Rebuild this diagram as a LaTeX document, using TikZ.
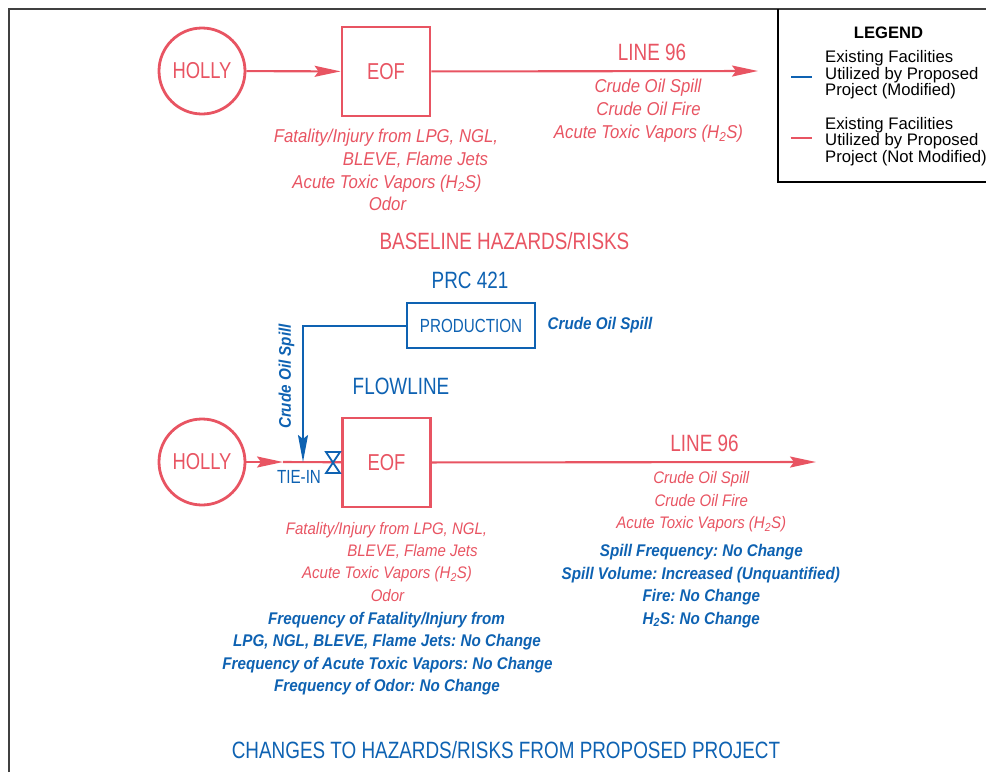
\documentclass[tikz,border=0pt]{standalone}
\usepackage{fontspec}
\setmainfont{Liberation Sans}[FakeStretch=0.8]
\newfontfamily\hazfont{Liberation Sans}[FakeStretch=0.9]
\newfontfamily\legfont{Liberation Sans}
\usetikzlibrary{arrows.meta,positioning}

\definecolor{hazred}{RGB}{232,84,98}
\definecolor{modblue}{RGB}{14,98,178}

\tikzset{
  redline/.style={hazred, line width=2.1pt},
  blueline/.style={modblue, line width=2pt},
  flowtip/.style={-{Stealth[length=26pt,width=11pt,inset=4pt]}},
  site/.style={circle, draw=hazred, line width=2.8pt, minimum size=86pt, inner sep=0pt,
    text=hazred, font=\fontsize{23}{23}\selectfont},
  facility/.style={draw=hazred, line width=2.8pt, minimum width=88pt, minimum height=89pt,
    inner sep=0pt, text=hazred, font=\fontsize{23}{23}\selectfont},
  title/.style={anchor=base, inner sep=0pt, font=\fontsize{23.6}{23.6}\selectfont},
  hazard/.style={anchor=base, inner sep=0pt, text=hazred, font=\hazfont\itshape\fontsize{18.6}{22}\selectfont},
  hazsmall/.style={anchor=base, inner sep=0pt, text=hazred, font=\hazfont\itshape\fontsize{16.7}{22}\selectfont},
  change/.style={anchor=base, inner sep=0pt, text=modblue, font=\hazfont\bfseries\itshape\fontsize{16.9}{22}\selectfont},
  legtext/.style={anchor=base west, inner sep=0pt, font=\legfont\fontsize{16.7}{16.5}\selectfont},
  frame/.style={draw=black!75, line width=2pt}
}
\frenchspacing

\begin{document}
\begin{tikzpicture}[x=1pt,y=-1pt]
    \useasboundingbox (0,0) rectangle (986,772);
    \draw [frame] (9,772) -- (9,9) -- (986,9);
    \draw [black, line width=1.5pt] (778,9) -- (778,182) -- (986,182);

    % legend
    \node[anchor=base, inner sep=0pt, font=\legfont\bfseries\fontsize{16.6}{16.6}\selectfont] (legend) at (888.5,38) {LEGEND};
    \foreach \txt [count=\i] in {Existing Facilities, Utilized by Proposed, Project (Modified)}
        \node[legtext] (legmod\i) at (825,46.2+16.5*\i) {\txt};
    \foreach \txt [count=\i] in {Existing Facilities, Utilized by Proposed, Project (Not Modified)}
        \node[legtext] (legnot\i) at (825,112.8+16.5*\i) {\txt};
    \draw [modblue, line width=2.2pt] (791,77) -- (812,77);
    \draw [hazred, line width=2.2pt] (791,138) -- (812,138);

    % baseline
    \node[site] (holly1) at (202,71) {HOLLY};
    \node[facility] (eof1) at (386,71.5) {EOF};
    \coordinate (end1) at (758,71);
    \draw [redline, flowtip] (holly1) -- (eof1);
    \draw [redline, flowtip] (eof1) -- (end1);
    \node[title, text=hazred] (line1) at (652,60) {LINE 96};
    \node[hazard] (spill1) at (648,92) {Crude Oil Spill};
    \node[hazard] (fire1) at (648.5,115) {Crude Oil Fire};
    \node[hazard] (vapor1) at (648.5,138) {Acute Toxic Vapors (H\textsubscript{2}S)};
    \node[hazard] (fatal1) at (386,142.7) {Fatality/Injury from LPG, NGL,};
    \node[hazard] (bleve1) at (415.5,165.3) {BLEVE, Flame Jets};
    \node[hazard] (toxic1) at (387,188) {Acute Toxic Vapors (H\textsubscript{2}S)};
    \node[hazard] (odor1) at (387.5,210.7) {Odor};
    \node[title, text=hazred] (base) at (504.5,249.3) {BASELINE HAZARDS/RISKS};

    % proposed project
    \node[title, text=modblue] (prc) at (470,288.3) {PRC 421};
    \node[draw=modblue, line width=2.8pt, minimum width=128pt, minimum height=45pt, inner sep=0pt,
        text=modblue, font=\fontsize{19}{19}\selectfont] (prod) at (471,325.5) {PRODUCTION};
    \node[change, anchor=west, right=11pt of prod] (spillp) {Crude Oil Spill};
    \node[change, anchor=center, rotate=90] (spillv) at (286.5,376.5) {Crude Oil Spill};
    \node[title, text=modblue] (flow) at (401,394) {FLOWLINE};

    \node[site] (holly2) at (202,462) {HOLLY};
    \node[facility] (eof2) at (386.5,462.5) {EOF};
    \coordinate (redtip) at (283,462);
    \coordinate (tiein) at (303,462);
    \coordinate (valve) at (333,462.5);
    \coordinate (end2) at (816,462);
    \draw [redline, flowtip] (holly2) -- (redtip);
    \draw [redline] (redtip) -- (eof2);
    \draw [redline, flowtip] (eof2) -- (end2);
    \draw [blueline, -{Stealth[length=27pt,width=10pt,inset=4pt]}] (prod.west) -| (tiein);
    \draw [modblue, line width=1.8pt, fill=white] (valve) ++(-7,-10.5) -- ++(14,0) -- ++(-14,21) -- ++(14,0) -- cycle;
    \node[anchor=base, inner sep=0pt, text=modblue, font=\fontsize{19}{19}\selectfont] (tie) at (299,483.3) {TIE-IN};

    \node[title, text=hazred] (line2) at (704.5,451) {LINE 96};
    \node[hazsmall] (spill2) at (701.3,483.3) {Crude Oil Spill};
    \node[hazsmall] (fire2) at (701.3,506) {Crude Oil Fire};
    \node[hazsmall] (vapor2) at (701.3,528.7) {Acute Toxic Vapors (H\textsubscript{2}S)};
    \node[change] (chg1) at (701.3,556) {Spill Frequency: No Change};
    \node[change] (chg2) at (700.8,579.3) {Spill Volume: Increased (Unquantified)};
    \node[change] (chg3) at (701.3,601.7) {Fire: No Change};
    \node[change] (chg4) at (701.3,624) {H\textsubscript{2}S: No Change};

    \node[hazsmall] (fatal2) at (386.5,534) {Fatality/Injury from LPG, NGL,};
    \node[hazsmall] (bleve2) at (412.5,556) {BLEVE, Flame Jets};
    \node[hazsmall] (toxic2) at (387,578.7) {Acute Toxic Vapors (H\textsubscript{2}S)};
    \node[hazsmall] (odor2) at (387.5,601) {Odor};
    \node[change] (chg5) at (386.5,624) {Frequency of Fatality/Injury from};
    \node[change] (chg6) at (387,646.7) {LPG, NGL, BLEVE, Flame Jets: No Change};
    \node[change] (chg7) at (387.5,669.3) {Frequency of Acute Toxic Vapors: No Change};
    \node[change] (chg8) at (387,691.7) {Frequency of Odor: No Change};
    \node[title, text=modblue] (changes) at (506,758.3) {CHANGES TO HAZARDS/RISKS FROM PROPOSED PROJECT};
\end{tikzpicture}
\end{document}
